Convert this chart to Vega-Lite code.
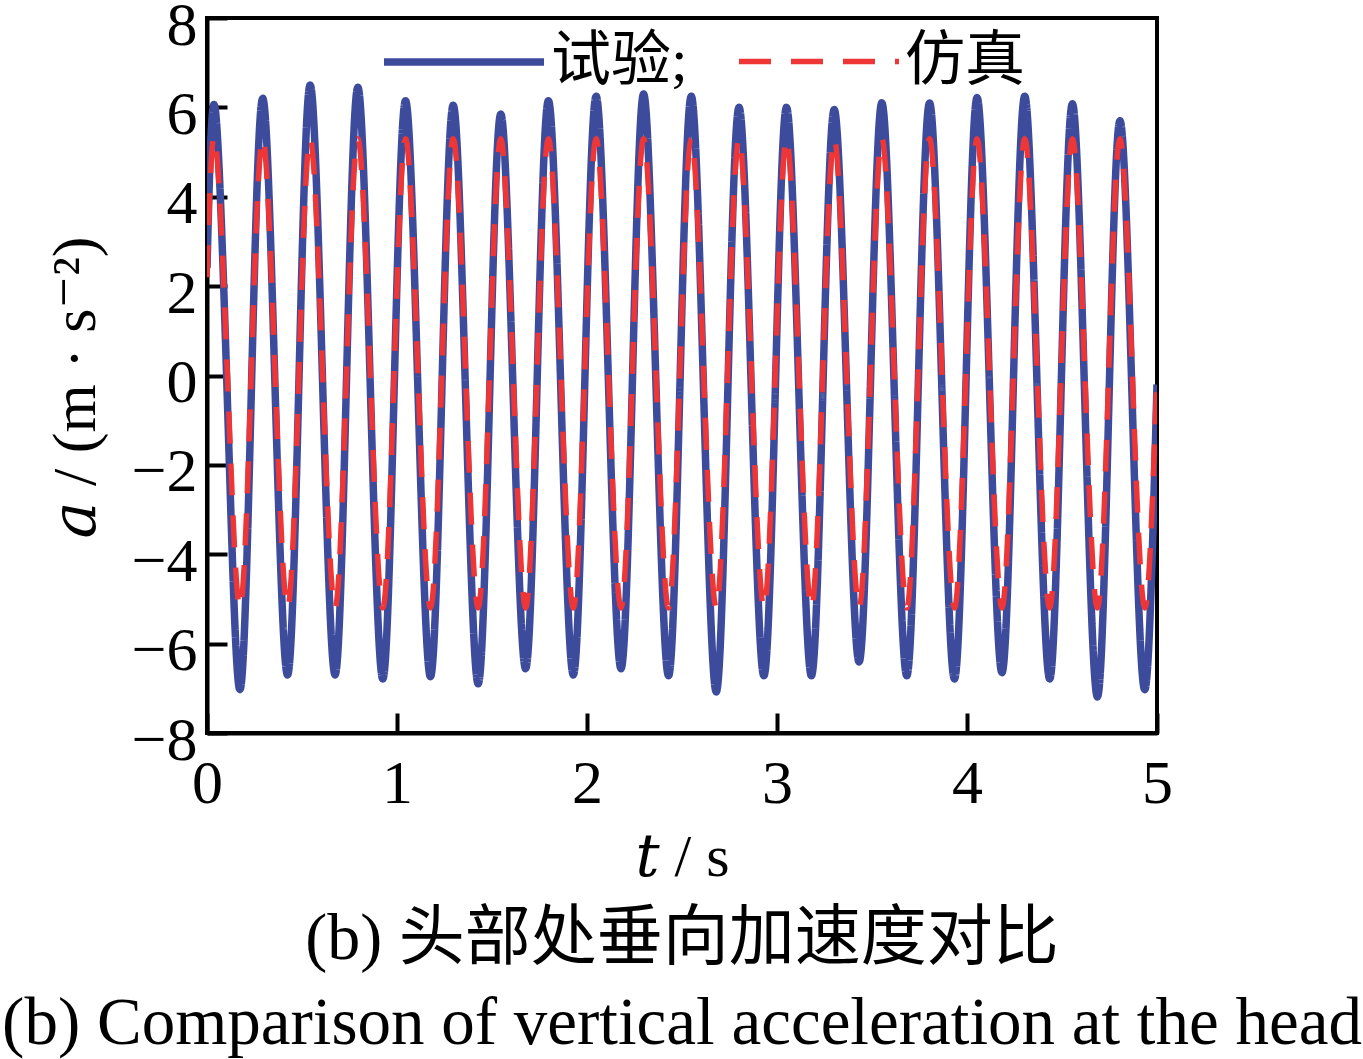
{
  "$schema": "https://vega.github.io/schema/vega-lite/v6.json",
  "width": 950,
  "height": 715,
  "autosize": {"type": "none"},
  "padding": {"left": 207, "top": 18, "right": 206, "bottom": 326},
  "background": "white",
  "config": {
    "font": "Liberation Serif",
    "view": {"stroke": "black", "strokeWidth": 4},
    "axis": {
      "domainColor": "black", "domainWidth": 4,
      "tickColor": "black", "tickWidth": 4, "tickSize": -20,
      "labelFont": "Liberation Serif", "labelFontSize": 62, "labelColor": "black",
      "grid": false,
      "titleFont": "Liberation Serif, DejaVu Serif", "titleFontWeight": "normal", "titleColor": "black", "titleFontSize": 60
    },
    "legend": {
      "orient": "none", "legendX": 173, "legendY": -40,
      "direction": "horizontal", "symbolType": "stroke", "symbolSize": 25600,
      "symbolStrokeWidth": 7, "labelFont": "Liberation Serif, Noto Sans CJK SC", "labelFontSize": 60,
      "labelColor": "black", "labelOffset": 3, "columnPadding": 40, "padding": 0,
      "labelLimit": 400, "title": null
    }
  },
  "title": {
    "text": "(b)  头部处垂向加速度对比",
    "subtitle": "(b)  Comparison of vertical acceleration at the head",
    "orient": "bottom", "anchor": "middle",
    "font": "Liberation Serif, Noto Sans CJK SC", "fontSize": 66, "fontWeight": "normal", "color": "black",
    "subtitleFont": "Liberation Serif", "subtitleFontSize": 67, "subtitleColor": "black",
    "subtitlePadding": 18, "offset": 20
  },
  "data": {"values": [
    {"t": 0, "exp": 2.4, "sim": 2.2},
    {"t": 0.042, "exp": 6.0, "sim": 5.3}, {"t": 0.107, "exp": -0.52, "sim": 0.05}, {"t": 0.173, "exp": -7.03, "sim": -5.2}, {"t": 0.233, "exp": -0.42, "sim": 0.05},
    {"t": 0.293, "exp": 6.2, "sim": 5.3}, {"t": 0.358, "exp": -0.25, "sim": 0.05}, {"t": 0.424, "exp": -6.7, "sim": -5.2}, {"t": 0.484, "exp": -0.1, "sim": 0.05},
    {"t": 0.543, "exp": 6.5, "sim": 5.3}, {"t": 0.608, "exp": -0.1, "sim": 0.05}, {"t": 0.674, "exp": -6.7, "sim": -5.2}, {"t": 0.734, "exp": -0.13, "sim": 0.05},
    {"t": 0.794, "exp": 6.45, "sim": 5.3}, {"t": 0.859, "exp": -0.17, "sim": 0.05}, {"t": 0.925, "exp": -6.79, "sim": -5.2}, {"t": 0.985, "exp": -0.32, "sim": 0.05},
    {"t": 1.045, "exp": 6.15, "sim": 5.3}, {"t": 1.110, "exp": -0.3, "sim": 0.05}, {"t": 1.176, "exp": -6.74, "sim": -5.2}, {"t": 1.236, "exp": -0.35, "sim": 0.05},
    {"t": 1.296, "exp": 6.05, "sim": 5.3}, {"t": 1.361, "exp": -0.43, "sim": 0.05}, {"t": 1.427, "exp": -6.9, "sim": -5.2}, {"t": 1.487, "exp": -0.53, "sim": 0.05},
    {"t": 1.546, "exp": 5.85, "sim": 5.3}, {"t": 1.611, "exp": -0.36, "sim": 0.05}, {"t": 1.677, "exp": -6.56, "sim": -5.2}, {"t": 1.737, "exp": -0.21, "sim": 0.05},
    {"t": 1.797, "exp": 6.15, "sim": 5.3}, {"t": 1.862, "exp": -0.28, "sim": 0.05}, {"t": 1.928, "exp": -6.7, "sim": -5.2}, {"t": 1.988, "exp": -0.23, "sim": 0.05},
    {"t": 2.048, "exp": 6.25, "sim": 5.3}, {"t": 2.113, "exp": -0.16, "sim": 0.05}, {"t": 2.179, "exp": -6.56, "sim": -5.2}, {"t": 2.239, "exp": -0.13, "sim": 0.05},
    {"t": 2.298, "exp": 6.3, "sim": 5.3}, {"t": 2.363, "exp": -0.21, "sim": 0.05}, {"t": 2.429, "exp": -6.72, "sim": -5.2}, {"t": 2.489, "exp": -0.24, "sim": 0.05},
    {"t": 2.549, "exp": 6.25, "sim": 5.3}, {"t": 2.614, "exp": -0.42, "sim": 0.05}, {"t": 2.680, "exp": -7.08, "sim": -5.2}, {"t": 2.740, "exp": -0.54, "sim": 0.05},
    {"t": 2.800, "exp": 6.0, "sim": 5.3}, {"t": 2.865, "exp": -0.36, "sim": 0.05}, {"t": 2.931, "exp": -6.72, "sim": -5.2}, {"t": 2.991, "exp": -0.36, "sim": 0.05},
    {"t": 3.050, "exp": 6.0, "sim": 5.3}, {"t": 3.115, "exp": -0.36, "sim": 0.05}, {"t": 3.181, "exp": -6.72, "sim": -5.2}, {"t": 3.241, "exp": -0.39, "sim": 0.05},
    {"t": 3.301, "exp": 5.95, "sim": 5.3}, {"t": 3.366, "exp": -0.23, "sim": 0.05}, {"t": 3.432, "exp": -6.41, "sim": -5.2}, {"t": 3.492, "exp": -0.16, "sim": 0.05},
    {"t": 3.552, "exp": 6.1, "sim": 5.3}, {"t": 3.617, "exp": -0.31, "sim": 0.05}, {"t": 3.683, "exp": -6.72, "sim": -5.2}, {"t": 3.743, "exp": -0.31, "sim": 0.05},
    {"t": 3.803, "exp": 6.1, "sim": 5.3}, {"t": 3.868, "exp": -0.35, "sim": 0.05}, {"t": 3.934, "exp": -6.79, "sim": -5.2}, {"t": 3.994, "exp": -0.29, "sim": 0.05},
    {"t": 4.053, "exp": 6.22, "sim": 5.3}, {"t": 4.118, "exp": -0.22, "sim": 0.05}, {"t": 4.184, "exp": -6.65, "sim": -5.2}, {"t": 4.244, "exp": -0.2, "sim": 0.05},
    {"t": 4.304, "exp": 6.25, "sim": 5.3}, {"t": 4.369, "exp": -0.27, "sim": 0.05}, {"t": 4.435, "exp": -6.79, "sim": -5.2}, {"t": 4.495, "exp": -0.36, "sim": 0.05},
    {"t": 4.555, "exp": 6.08, "sim": 5.3}, {"t": 4.620, "exp": -0.56, "sim": 0.05}, {"t": 4.686, "exp": -7.19, "sim": -5.2}, {"t": 4.746, "exp": -0.75, "sim": 0.05},
    {"t": 4.805, "exp": 5.7, "sim": 5.3}, {"t": 4.870, "exp": -0.67, "sim": 0.05}, {"t": 4.936, "exp": -7.03, "sim": -5.2}, {"t": 5.0, "exp": -0.2, "sim": 0.05}
  ]},
  "transform": [{"fold": ["exp", "sim"], "as": ["series", "a"]}],
  "mark": {"type": "line", "interpolate": "natural", "clip": true},
  "encoding": {
    "x": {
      "field": "t", "type": "quantitative",
      "scale": {"domain": [0, 5], "nice": false, "zero": false},
      "axis": {"values": [0, 1, 2, 3, 4, 5], "title": "𝑡 / s", "labelPadding": 40, "labelFlush": false,
               "titleX": 475, "titleY": 142, "titleBaseline": "alphabetic", "titleAlign": "center"}
    },
    "y": {
      "field": "a", "type": "quantitative",
      "scale": {"domain": [-8, 8], "nice": false},
      "axis": {"values": [-8, -6, -4, -2, 0, 2, 4, 6, 8], "title": "𝑎 / (m · s⁻²)", "labelPadding": 30, "labelOffset": 7,
               "titleX": -100, "titleY": 369, "titleAngle": 270, "titleAlign": "center", "titleBaseline": "bottom", "titleFontSize": 62}
    },
    "color": {
      "field": "series", "type": "nominal",
      "scale": {"domain": ["exp", "sim"], "range": ["#3d4b9c", "#ee3636"]},
      "legend": {"labelExpr": "datum.value == 'exp' ? '试验;' : '仿真'"}
    },
    "strokeDash": {
      "field": "series", "type": "nominal",
      "scale": {"domain": ["exp", "sim"], "range": [[1, 0], [32, 20]]},
      "legend": {"labelExpr": "datum.value == 'exp' ? '试验;' : '仿真'"}
    },
    "strokeWidth": {
      "field": "series", "type": "nominal",
      "scale": {"domain": ["exp", "sim"], "range": [7.5, 5.5]},
      "legend": {"labelExpr": "datum.value == 'exp' ? '试验;' : '仿真'"}
    }
  }
}
